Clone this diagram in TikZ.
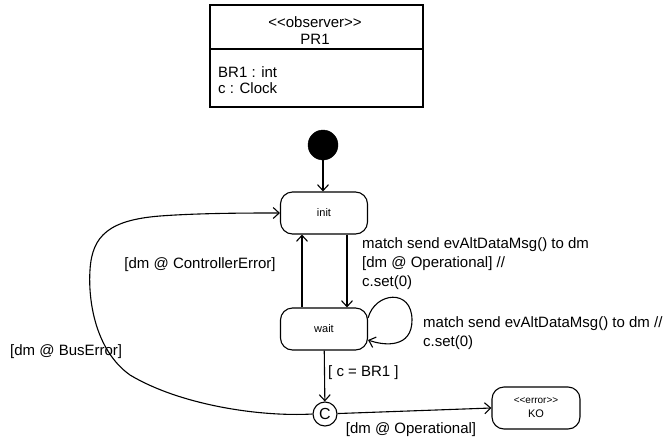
\documentclass[tikz,border=0pt]{standalone}
\usepackage{fontspec}
\newfontfamily\lsans{Liberation Sans}
\usetikzlibrary{arrows.meta}
\begin{document}
\begin{tikzpicture}[x=1pt,y=-1pt,
  lbl/.style={font=\lsans\fontsize{15}{19}\selectfont, inner sep=0pt, align=left},
  state/.style={draw, line width=1.1pt, rounded corners=12pt, minimum width=87pt, minimum height=42pt, inner sep=0pt, align=center, font=\lsans\fontsize{11}{13}\selectfont},
  conn/.style={line width=1.1pt, -{Straight Barb[length=6pt,width=11pt]}},
  boxline/.style={line width=1.1pt}
]
\useasboundingbox (0,0) rectangle (666,439);
% class box
\node[draw, boxline, minimum width=213pt, minimum height=102pt, inner sep=0pt] (cls) at (316.5,56) {};
\coordinate (divl) at (210,49);
\coordinate (divr) at (423,49);
\draw[boxline] (divl) -- (divr);
\node[lbl] (stereo) at (315,22) {<<observer>>};
\node[lbl] (pr) at (315,39) {PR1};
\node[lbl, anchor=west] (a1) at (218,72) {BR1 : int};
\node[lbl, anchor=west] (a2) at (218,88) {c : Clock};
% states
\node[draw, fill=black, circle, minimum size=30pt, inner sep=0pt] (start) at (323,145) {};
\node[state] (init) at (324,213) {init};
\node[state] (wait) at (324,329) {wait};
\node[draw, circle, line width=1.1pt, minimum size=24pt, inner sep=0pt, font=\lsans\fontsize{16}{18}\selectfont] (C) at (325,414) {C};
\node[state, minimum width=88pt] (KO) at (536,408) {{\fontsize{10}{11}\selectfont <<error>>}\\[1pt]KO};
% connectors
\draw[conn] (start.south) -- (start.south |- init.north);
\draw[conn] ([xshift=23pt]init.south) -- ([xshift=23pt]wait.north);
\draw[conn] ([xshift=-22pt]wait.north) -- ([xshift=-22pt]init.south);
\draw[conn] ([yshift=11pt]wait.east) .. controls (375,292) and (412,288) .. (412,320)
  .. controls (412,348) and (385,346) .. ([yshift=-11pt]wait.east);
\draw[conn] (wait) -- (C);
\draw[conn] (C) -- (KO.west);
\draw[conn] (C.west) .. controls (260,417) and (180,405) .. (130,375)
  .. controls (95,350) and (88,300) .. (90,270)
  .. controls (92,235) and (110,220) .. (160,216)
  .. controls (200,213) and (250,213) .. (init.west);
% labels
\node[lbl] (lce) at (200,265) {[dm @ ControllerError]};
\node[lbl, anchor=west] (lbe) at (10,352) {[dm @ BusError]};
\node[lbl, anchor=west] (lm1) at (362,264) {match send evAltDataMsg() to dm\\ {[}dm @ Operational] //\\ c.set(0)};
\node[lbl, anchor=west] (lm2) at (423,333) {match send evAltDataMsg() to dm //\\ c.set(0)};
\node[lbl, anchor=west] (lc) at (328,373) {[ c = BR1 ]};
\node[lbl] (lop) at (411,430) {[dm @ Operational]};
\end{tikzpicture}
\end{document}
